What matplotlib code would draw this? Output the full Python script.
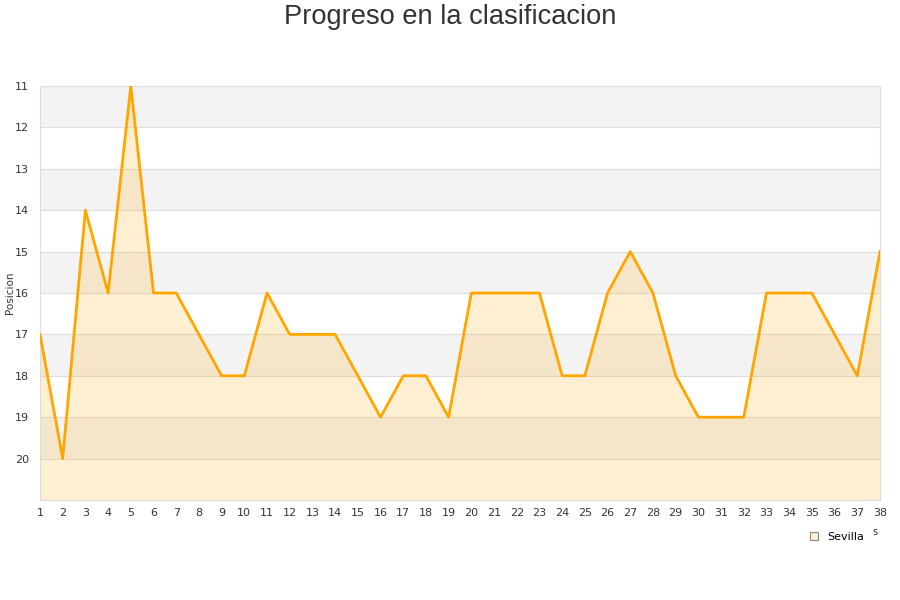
import matplotlib
matplotlib.use("Agg")
import matplotlib.pyplot as plt
from matplotlib.lines import Line2D

jornadas = list(range(1, 39))
posiciones = [17, 20, 14, 16, 11, 16, 16, 17, 18, 18, 16, 17, 17, 17, 18, 19, 18, 18, 19, 16,
              16, 16, 16, 18, 18, 16, 15, 16, 18, 19, 19, 19, 16, 16, 16, 17, 18, 15]
equipo = "Sevilla"
titulo = "Progreso en la clasificacion"
y_ticks = list(range(11, 21))

fig = plt.figure(figsize=(9, 6), dpi=100)
ax = fig.add_axes([40/900, 1-500/600, 840/900, 414/600])

ax.set_xlim(1, 38)
ax.set_ylim(21, 11)

# alternating bands
for y0 in range(11, 21):
    if (y0 - 11) % 2 == 0:
        ax.axhspan(y0, y0+1, color="#f3f3f3", zorder=0, lw=0)

for y0 in range(12, 21):
    ax.axhline(y0, color="#dddddd", lw=0.8, zorder=1)

ax.fill_between(jornadas, posiciones, 21, color="#ffc04d", alpha=0.25, lw=0, zorder=2)
ax.plot(jornadas, posiciones, color="#ffa500", lw=2, zorder=3)

ax.set_xticks(jornadas)
ax.set_yticks(y_ticks)
ax.tick_params(axis="both", length=0, labelsize=8, colors="#333333", pad=6)
ax.tick_params(axis="y", pad=8)
for s in ax.spines.values():
    s.set_color("#dddddd")
    s.set_linewidth(0.8)

fig.text(10/900, 1-293/600, "Posicion", rotation=90, ha="center", va="center",
         fontsize=7.5, color="#333333")

fig.text(0.5, 1-17/600, titulo, ha="center", va="center", fontsize=19.6,
         family="Liberation Sans", color="#333333")

fig.text(875/900, 1-532/600, "s", ha="center", va="center", fontsize=7, color="#333333")

handle = Line2D([], [], marker="s", ls="none", markersize=6,
                markerfacecolor="#ffeecc", markeredgecolor="#888888", markeredgewidth=0.8)
leg = fig.legend([handle], [equipo], loc="center left", bbox_to_anchor=(802/900, 1-537/600),
                 frameon=False, fontsize=8, handletextpad=0.6, borderpad=0, handlelength=1.2)

fig.savefig("out.png", dpi=100)
